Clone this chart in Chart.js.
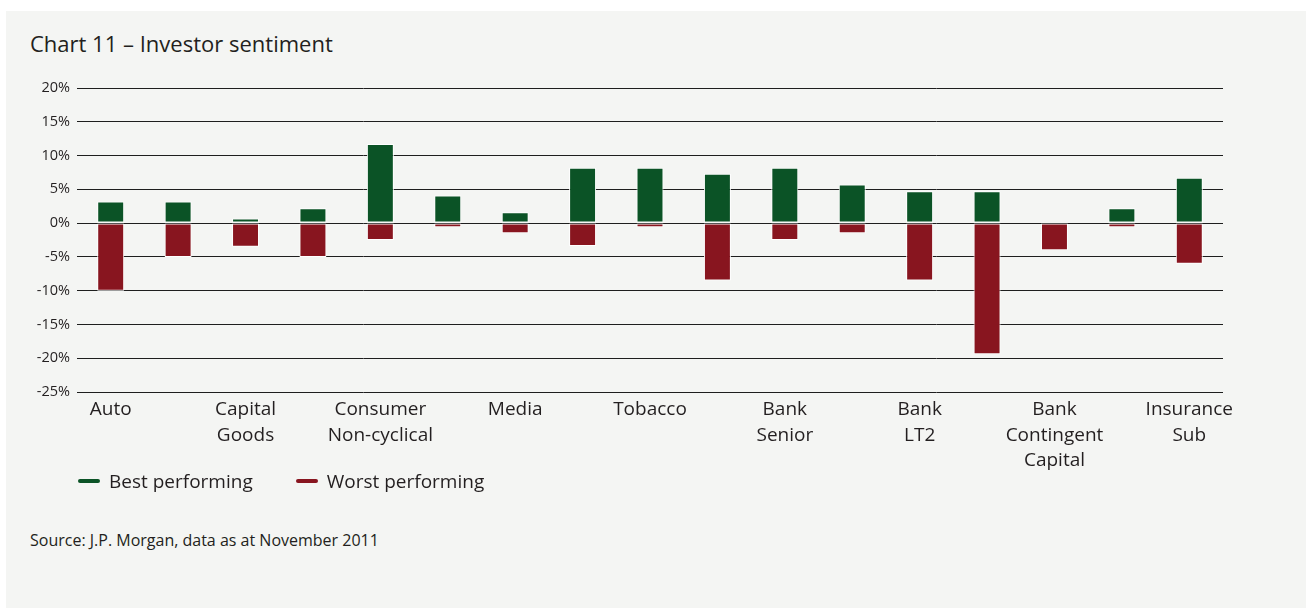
<!DOCTYPE html>
<html>
<head>
<meta charset="utf-8">
<script src="https://cdn.jsdelivr.net/npm/chart.js@4.4.1/dist/chart.umd.min.js"></script>
<style>
  html, body { margin: 0; padding: 0; background: #fff; }
  body { width: 1306px; height: 608px; position: relative; overflow: hidden; font-family: "Open Sans", sans-serif; color: #231f20; }
  .panel { position: absolute; left: 6px; top: 11px; width: 1300px; height: 597px; background: #f4f5f3; }
  .title { position: absolute; left: 30px; top: 28px; font-size: 22px; line-height: 30px; }
  .chart-wrap { position: absolute; left: 0; top: 60px; width: 1306px; height: 420px; }
  .legend { position: absolute; left: 78px; top: 467px; font-size: 19px; line-height: 28px; display: flex; }
  .legend span.item { display: flex; align-items: center; margin-right: 43px; }
  .legend i { display: inline-block; width: 22px; height: 4px; border-radius: 2px; margin-right: 9px; }
  .source { position: absolute; left: 30px; top: 528px; font-size: 16px; line-height: 24px; }
</style>
</head>
<body>
<div class="panel"></div>
<div class="title">Chart 11 – Investor sentiment</div>
<div class="chart-wrap"><canvas id="chart"></canvas></div>
<div class="legend" id="legend"></div>
<div class="source">Source: J.P. Morgan, data as at November 2011</div>
<script>
const categories = [
  'Auto', '', ['Capital', 'Goods'], '', ['Consumer', 'Non-cyclical'], '', 'Media', '',
  'Tobacco', '', ['Bank', 'Senior'], '', ['Bank', 'LT2'], '', ['Bank', 'Contingent', 'Capital'], '',
  ['Insurance', 'Sub']
];
const bestPerforming  = [3.2, 3.2, 0.7, 2.2, 11.7, 4.1, 1.6, 8.2, 8.2, 7.3, 8.2, 5.7, 4.7, 4.7, 0, 2.2, 6.7];
const worstPerforming = [-10, -5, -3.5, -5, -2.5, -0.6, -1.5, -3.4, -0.6, -8.5, -2.5, -1.5, -8.5, -19.4, -4.0, -0.6, -6.0];
const yTicks = [-25, -20, -15, -10, -5, 0, 5, 10, 15, 20];

const GREEN = '#0b5326';
const RED = '#88151f';
const INK = '#231f20';

const chart = new Chart(document.getElementById('chart'), {
  type: 'bar',
  data: {
    labels: categories,
    datasets: [
      { label: 'Best performing', data: bestPerforming, backgroundColor: GREEN },
      { label: 'Worst performing', data: worstPerforming, backgroundColor: RED }
    ]
  },
  options: {
    responsive: true,
    maintainAspectRatio: false,
    animation: false,
    datasets: {
      bar: {
        borderColor: '#ffffff',
        borderWidth: 1,
        borderSkipped: false,
        categoryPercentage: 0.8,
        barPercentage: 0.5
      }
    },
    layout: { padding: { top: 28, right: 83, bottom: 0, left: 0 } },
    plugins: { legend: { display: false }, tooltip: { enabled: false } },
    scales: {
      x: {
        stacked: true,
        grid: { display: false },
        border: { display: false },
        ticks: {
          autoSkip: false,
          maxRotation: 0,
          minRotation: 0,
          padding: -3,
          color: INK,
          font: { family: 'Open Sans', size: 19, lineHeight: 1.34 }
        },
        afterFit: s => { s.height = 88; }
      },
      y: {
        stacked: true,
        min: yTicks[0],
        max: yTicks[yTicks.length - 1],
        afterBuildTicks: s => { s.ticks = yTicks.map(v => ({ value: v })); },
        grid: { color: '#1e1e1e', lineWidth: 1, drawTicks: false },
        border: { display: false },
        ticks: {
          padding: 7,
          color: INK,
          font: { family: 'Open Sans', size: 14.5 },
          callback: v => v + '%'
        },
        afterFit: s => { s.width = 77; }
      }
    }
  }
});

// html legend built from the datasets
document.getElementById('legend').innerHTML = chart.data.datasets.map(d =>
  '<span class="item"><i style="background:' + d.backgroundColor + '"></i>' + d.label + '</span>'
).join('');
</script>
</body>
</html>
